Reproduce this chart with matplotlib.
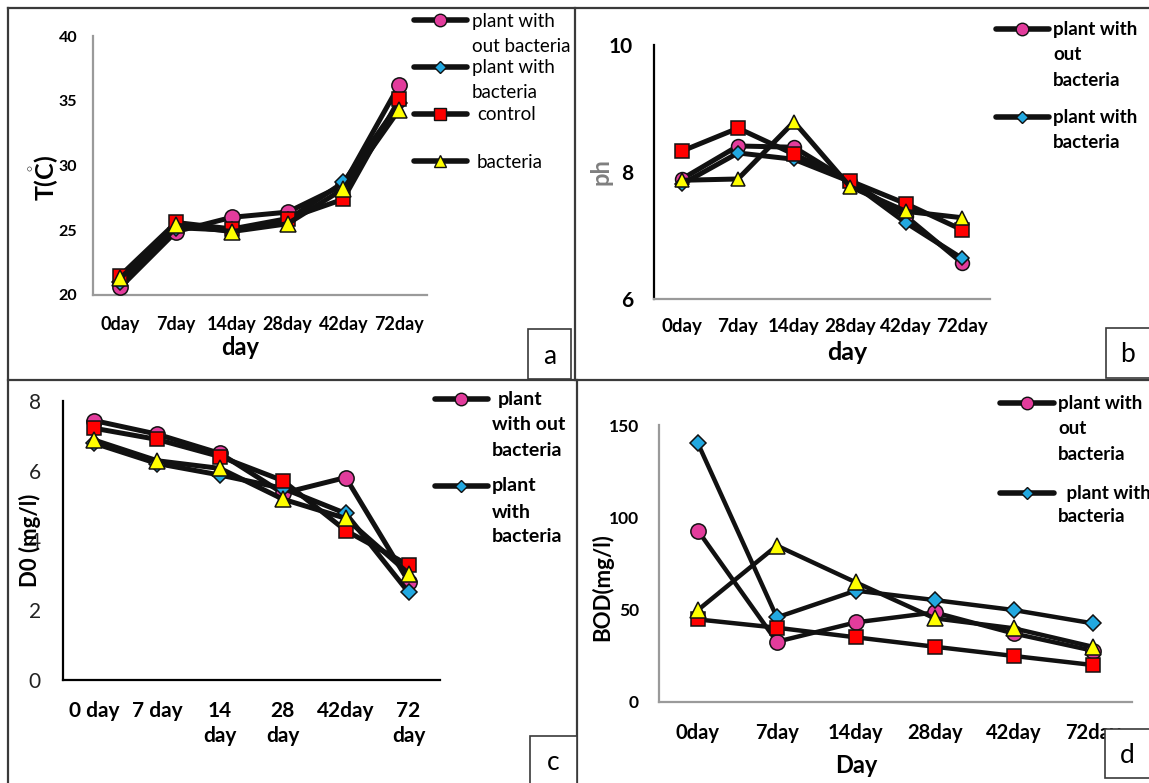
import matplotlib
matplotlib.use("Agg")
import matplotlib.pyplot as plt
from matplotlib.lines import Line2D
from matplotlib.patches import Rectangle

plt.rcParams['font.family'] = ['Lato', 'DejaVu Sans']
plt.rcParams['mathtext.fontset'] = 'custom'
plt.rcParams['mathtext.rm'] = 'Lato:bold'
plt.rcParams['mathtext.it'] = 'Lato:bold'
plt.rcParams['mathtext.bf'] = 'Lato:bold'

# ---------------- data ----------------
series_names = ["plant with out bacteria", "plant with bacteria", "control", "bacteria"]
days_a = ["0day", "7day", "14day", "28day", "42day", "72day"]
days_c = ["0 day", "7 day", "14\nday", "28\nday", "42day", "72\nday"]

temp_plant_no_bact = [20.6, 24.9, 26.0, 26.4, 28.5, 36.2]
temp_plant_bact = [21.0, 25.2, 25.0, 25.8, 28.7, 34.8]
temp_control = [21.5, 25.6, 25.1, 25.9, 27.4, 35.1]
temp_bacteria = [21.3, 25.4, 24.9, 25.5, 28.2, 34.3]

ph_plant_no_bact = [7.89, 8.41, 8.39, 7.85, 7.30, 6.57]
ph_plant_bact = [7.81, 8.30, 8.20, 7.85, 7.20, 6.64]
ph_control = [8.33, 8.69, 8.28, 7.86, 7.50, 7.09]
ph_bacteria = [7.87, 7.89, 8.79, 7.77, 7.38, 7.28]

do_plant_no_bact = [7.43, 7.04, 6.49, 5.35, 5.80, 2.82]
do_plant_bact = [6.78, 6.20, 5.87, 5.49, 4.77, 2.51]
do_control = [7.21, 6.89, 6.40, 5.71, 4.28, 3.29]
do_bacteria = [6.87, 6.28, 6.06, 5.18, 4.63, 3.05]

bod_plant_no_bact = [92.7, 32.5, 43.0, 48.4, 37.0, 27.7]
bod_plant_bact = [140.0, 45.7, 60.2, 55.1, 49.7, 42.5]
bod_control = [44.6, 40.1, 34.9, 29.8, 24.8, 19.9]
bod_bacteria = [49.7, 84.6, 64.7, 45.2, 39.8, 29.8]

# ---------------- styles ----------------
W, H = 1149, 783
PINK, BLUE, RED, YEL = "#e23c9c", "#22a8e0", "#ff0000", "#ffff00"
styles = [
    dict(marker="o", mfc=PINK, scale=1.0),
    dict(marker="D", mfc=BLUE, scale=0.72),
    dict(marker="s", mfc=RED, scale=0.95),
    dict(marker="^", mfc=YEL, scale=1.0),
]
GRAY_SPINE = "#9a9a9a"

fig = plt.figure(figsize=(W / 100, H / 100), dpi=100)


def px_axes(l, t, r, b):
    return fig.add_axes([l / W, 1 - b / H, (r - l) / W, (b - t) / H])


def fx(x):
    return x / W


def fy(y):
    return 1 - y / H


def plot_series(ax, data, ms, lw):
    for vals, st in zip(data, styles):
        ax.plot(range(len(vals)), vals, color="#111111", lw=lw, marker=st["marker"],
                markerfacecolor=st["mfc"], markeredgecolor="#111111", markeredgewidth=1.1,
                markersize=ms * st["scale"], solid_joinstyle="round", zorder=3)


def style_axes(ax, ylim, yticks, xlabels, left_color, bottom_color, ytick_fs, ytick_w,
               xtick_fs, ypad, xpad, ytick_color="black"):
    ax.set_xlim(-0.5, len(xlabels) - 0.5)
    ax.set_ylim(*ylim)
    ax.set_yticks(yticks)
    ax.set_yticklabels([str(v) for v in yticks], fontsize=ytick_fs, fontweight=ytick_w,
                       color=ytick_color)
    ax.set_xticks(range(len(xlabels)))
    ax.set_xticklabels(xlabels, fontsize=xtick_fs, fontweight="bold")
    ax.tick_params(axis="both", length=0)
    ax.tick_params(axis="y", pad=ypad)
    ax.tick_params(axis="x", pad=xpad)
    for s in ["top", "right"]:
        ax.spines[s].set_visible(False)
    ax.spines["left"].set_color(left_color)
    ax.spines["bottom"].set_color(bottom_color)
    ax.spines["left"].set_linewidth(1.6)
    ax.spines["bottom"].set_linewidth(1.6)
    ax.patch.set_alpha(0)


def legend_entry(x1, x2, xm, y, st, lines, fs, weight, ms):
    fig.add_artist(Line2D([fx(x1), fx(x2)], [fy(y), fy(y)], color="#111111", lw=4.0,
                          solid_capstyle="round", transform=fig.transFigure))
    fig.add_artist(Line2D([fx(xm)], [fy(y)], marker=st["marker"], markersize=ms * st["scale"],
                          markerfacecolor=st["mfc"], markeredgecolor="#111111",
                          markeredgewidth=1.0, transform=fig.transFigure))
    for (tx, ty, txt) in lines:
        fig.text(fx(tx), fy(ty), txt, fontsize=fs, fontweight=weight, va="center", ha="left")


# ---------------- panel a ----------------
ax_a = px_axes(92.5, 36, 427, 295)
plot_series(ax_a, [temp_plant_no_bact, temp_plant_bact, temp_control, temp_bacteria], 11, 3.6)
style_axes(ax_a, (20, 40), [20, 25, 30, 35, 40], days_a, GRAY_SPINE, GRAY_SPINE,
           11.5, "bold", 13, 11, 15)
ax_a.set_xlabel("day", fontsize=17, fontweight="bold")
ax_a.xaxis.set_label_coords(0.441, -0.16)
ax_a.set_ylabel(r"T($\mathring{\mathrm{C}}$)", fontsize=18, fontweight="bold")
ax_a.yaxis.set_label_coords(-0.145, 0.452)
ax_a.yaxis.label.set_va("center")

legend_entry(414, 467, 440, 20, styles[0], [(472, 21, "plant with"), (472, 47, "out bacteria")], 13.5, "normal", 9)
legend_entry(414, 467, 440, 67, styles[1], [(472, 68, "plant with"), (472, 93, "bacteria")], 13.5, "normal", 9)
legend_entry(414, 467, 440, 114, styles[2], [(477, 115, "control")], 13.5, "normal", 9)
legend_entry(414, 467, 440, 161, styles[3], [(477, 162, "bacteria")], 13.5, "normal", 9)

# ---------------- panel b ----------------
ax_b = px_axes(654, 45, 990, 299)
plot_series(ax_b, [ph_plant_no_bact, ph_plant_bact, ph_control, ph_bacteria], 10, 3.6)
style_axes(ax_b, (6, 10), [6, 8, 10], days_a, "black", GRAY_SPINE,
           15, "bold", 13.5, 15, 14)
ax_b.set_xlabel("day", fontsize=18, fontweight="bold")
ax_b.xaxis.set_label_coords(0.574, -0.165)
ax_b.set_ylabel("ph", fontsize=17, fontweight="bold", color="#7f7f7f")
ax_b.yaxis.set_label_coords(-0.158, 0.5)
ax_b.yaxis.label.set_va("center")

legend_entry(996, 1049, 1022, 29, styles[0],
             [(1053, 29, "plant with"), (1053, 55, "out"), (1053, 80, "bacteria")], 13.5, "bold", 9)
legend_entry(996, 1049, 1022, 117, styles[1],
             [(1053, 117, "plant with"), (1053, 143, "bacteria")], 13.5, "bold", 9)

# ---------------- panel c ----------------
ax_c = px_axes(63, 400.7, 440, 680)
plot_series(ax_c, [do_plant_no_bact, do_plant_bact, do_control, do_bacteria], 11, 3.6)
style_axes(ax_c, (0, 8), [0, 2, 4, 6, 8], days_c, "black", "black",
           15, "normal", 15, 16, 15, ytick_color="#222222")
for lab in ax_c.get_xticklabels():
    lab.set_linespacing(1.35)
ax_c.set_ylabel("D0 (mg/l)", fontsize=16, fontweight="bold")
ax_c.yaxis.set_label_coords(-0.0875, 0.5)
ax_c.yaxis.label.set_va("center")

legend_entry(435, 488, 461, 399, styles[0],
             [(498, 400, "plant"), (492, 425, "with out"), (492, 450, "bacteria")], 14, "bold", 9)
legend_entry(435, 488, 461, 486, styles[1],
             [(492, 486, "plant"), (492, 512, "with"), (492, 537, "bacteria")], 14, "bold", 9)

# ---------------- panel d ----------------
ax_d = px_axes(658.5, 425, 1132, 701.7)
plot_series(ax_d, [bod_plant_no_bact, bod_plant_bact, bod_control, bod_bacteria], 11, 3.2)
style_axes(ax_d, (0, 150), [0, 50, 100, 150], days_a, GRAY_SPINE, GRAY_SPINE,
           12.5, "bold", 14.5, 14, 15)
ax_d.set_xlabel("Day", fontsize=17, fontweight="bold")
ax_d.xaxis.set_label_coords(0.417, -0.19)
ax_d.set_ylabel("BOD(mg/l)", fontsize=16, fontweight="bold")
ax_d.yaxis.set_label_coords(-0.119, 0.415)
ax_d.yaxis.label.set_va("center")

legend_entry(1000, 1054, 1027, 403, styles[0],
             [(1058, 404, "plant with"), (1058, 429, "out"), (1058, 454, "bacteria")], 13.5, "bold", 9)
legend_entry(1000, 1054, 1027, 493, styles[1],
             [(1062, 493, " plant with"), (1058, 517, "bacteria")], 13.5, "bold", 9)

# ---------------- panel frames ----------------
FRAME = "#3a3a3a"
frame_lines = [
    ([8, 1149], [8, 8]),
    ([8, 8], [8, 783]),
    ([8, 1149], [380, 380]),
    ([575, 575], [8, 380]),
    ([577, 577], [380, 783]),
]
for xs, ys in frame_lines:
    fig.add_artist(Line2D([fx(v) for v in xs], [fy(v) for v in ys], color=FRAME, lw=1.6,
                          transform=fig.transFigure, zorder=5))

# label boxes
boxes = [("a", 528, 329, 571, 379), ("b", 1106, 328, 1152, 378),
         ("c", 530, 736, 577, 786), ("d", 1105, 729, 1152, 778)]
for lab, x1, y1, x2, y2 in boxes:
    fig.add_artist(Rectangle((fx(x1), fy(y2)), fx(x2 - x1), (y2 - y1) / H, facecolor="white",
                             edgecolor=FRAME, lw=1.2, transform=fig.transFigure, zorder=6))
    fig.text(fx((x1 + min(x2, 1149)) / 2), fy((y1 + y2) / 2 + 2), lab, fontsize=19,
             ha="center", va="center", zorder=7)

fig.savefig("out.png", dpi=100)
